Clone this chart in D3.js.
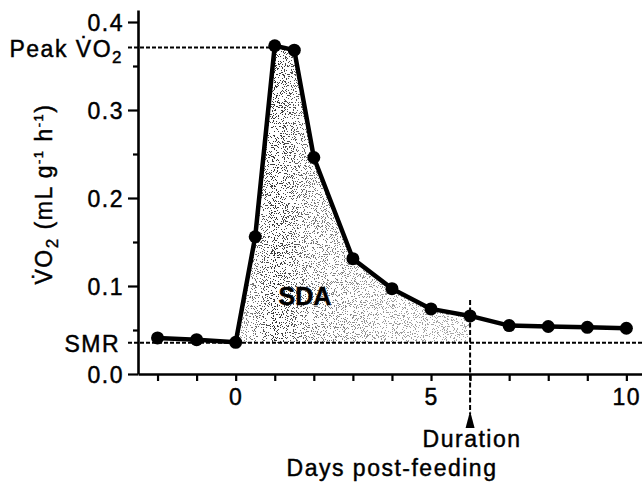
<!DOCTYPE html>
<html>
<head>
<meta charset="utf-8">
<script src="https://cdn.jsdelivr.net/npm/d3@7"></script>
<style>
  body { margin: 0; background: #fff; }
  text { font-family: "Liberation Sans", Arial, sans-serif; fill: #000; stroke: #000; stroke-width: 0.45px; }
</style>
</head>
<body>
<svg id="chart" width="642" height="483"></svg>
<script>
// data
const days = [-2, -1, 0, 0.5, 1, 1.5, 2, 3, 4, 5, 6, 7, 8, 9, 10];
const vo2 = [0.041, 0.039, 0.036, 0.156, 0.373, 0.368, 0.246, 0.131, 0.097, 0.074, 0.066, 0.055, 0.054, 0.053, 0.052];
const smr = 0.0356;
const peak = 0.371;
const duration = 6;
const yTicks = [0, 0.1, 0.2, 0.3, 0.4];
const yMinor = [0.05, 0.15, 0.25, 0.35];
const xTicks = [-2, -1, 0, 1, 2, 3, 4, 5, 6, 7, 8, 9, 10];
const xLabels = [0, 5, 10];

const points = days.map((d, i) => ({ day: d, v: vo2[i] }));

const svg = d3.select("#chart");

const x = d3.scaleLinear().domain([-2.5, 10.4]).range([138, 642]);
const y = d3.scaleLinear().domain([0, 0.41364]).range([374, 10]);

const fontSize = "23px";
const spacing = "1.5px";

// stipple texture for the SDA area
const defs = svg.append("defs");
const grad = defs.append("linearGradient")
    .attr("id", "sdaGrad")
    .attr("gradientUnits", "userSpaceOnUse")
    .attr("x1", x(0)).attr("x2", x(6)).attr("y1", 0).attr("y2", 0);
[[0, "#aaa"], [0.17, "#333"], [0.32, "#777"], [0.6, "#999"], [1, "#aaa"]].forEach(s => {
    grad.append("stop").attr("offset", s[0]).attr("stop-color", s[1]);
});

const filter = defs.append("filter").attr("id", "stipple")
    .attr("x", 0).attr("y", 0).attr("width", "100%").attr("height", "100%");
filter.append("feTurbulence")
    .attr("type", "fractalNoise").attr("baseFrequency", 0.9)
    .attr("numOctaves", 2).attr("seed", 7).attr("result", "noise");
filter.append("feColorMatrix")
    .attr("in", "noise").attr("type", "matrix")
    .attr("values", "0 0 0 0 0  0 0 0 0 0  0 0 0 0 0  1 0 0 0 0")
    .attr("result", "alpha");
filter.append("feComponentTransfer").attr("in", "alpha").attr("result", "dots")
    .append("feFuncA").attr("type", "discrete").attr("tableValues", "0 0 0 0 0 0 1 1 1 1");
filter.append("feComposite")
    .attr("in", "SourceGraphic").attr("in2", "dots").attr("operator", "in");

const sdaPoints = points.filter(p => p.day >= 0 && p.day <= duration);
const area = d3.area()
    .x(d => x(d.day))
    .y0(y(smr))
    .y1(d => y(d.v));

svg.append("path")
    .datum(sdaPoints)
    .attr("d", area)
    .attr("fill", "url(#sdaGrad)")
    .attr("filter", "url(#stipple)");

// axes
const yAxis = svg.append("g")
    .attr("transform", `translate(${x(-2.5)},0)`)
    .call(d3.axisLeft(y).tickValues(yTicks).tickSize(10).tickSizeOuter(0)
        .tickFormat(d3.format(".1f")).tickPadding(4));
svg.append("g")
    .attr("transform", `translate(${x(-2.5)},0)`)
    .call(d3.axisLeft(y).tickValues(yMinor).tickSize(5).tickSizeOuter(0).tickFormat(""))
    .select(".domain").remove();

const xAxis = svg.append("g")
    .attr("transform", `translate(0,${y(0)})`)
    .call(d3.axisBottom(x).tickValues(xTicks).tickSize(7).tickSizeOuter(0)
        .tickFormat(d => xLabels.includes(d) ? d : "").tickPadding(8));

[yAxis, xAxis].forEach(g => {
    g.selectAll("text")
        .style("font-family", "'Liberation Sans', Arial, sans-serif")
        .style("font-size", fontSize)
        .style("letter-spacing", spacing)
        .attr("fill", "#000");
});
yAxis.selectAll("text").attr("dy", "0.38em");
svg.selectAll(".domain").attr("stroke", "#000").attr("stroke-width", 2.6);
svg.selectAll(".tick line").attr("stroke", "#000").attr("stroke-width", 2.2);

// reference lines
svg.append("line")
    .attr("x1", 128).attr("x2", 642)
    .attr("y1", y(smr)).attr("y2", y(smr))
    .attr("stroke", "#000").attr("stroke-width", 2).attr("stroke-dasharray", "4,2");
svg.append("line")
    .attr("x1", 128).attr("x2", x(1))
    .attr("y1", y(peak)).attr("y2", y(peak))
    .attr("stroke", "#000").attr("stroke-width", 2).attr("stroke-dasharray", "4,2");
svg.append("line")
    .attr("x1", x(duration)).attr("x2", x(duration))
    .attr("y1", 300).attr("y2", 414)
    .attr("stroke", "#000").attr("stroke-width", 2).attr("stroke-dasharray", "5,2.5");
svg.append("path")
    .attr("d", `M${x(duration)},411 L${x(duration) - 4.5},428 L${x(duration) + 4.5},428 Z`)
    .attr("fill", "#000");

// data line and dots
const line = d3.line().x(d => x(d.day)).y(d => y(d.v));
svg.append("path")
    .datum(points)
    .attr("d", line)
    .attr("fill", "none")
    .attr("stroke", "#000")
    .attr("stroke-width", 4.5)
    .attr("stroke-linejoin", "round");

svg.append("g").selectAll("circle")
    .data(points)
    .join("circle")
    .attr("cx", d => x(d.day))
    .attr("cy", d => y(d.v))
    .attr("r", 6.5)
    .attr("fill", "#000");

// labels
const label = (t, px, py, anchor) => svg.append("text")
    .attr("x", px).attr("y", py)
    .attr("text-anchor", anchor)
    .style("font-size", fontSize)
    .style("letter-spacing", spacing)
    .text(t);

label("SMR", 120, y(smr) + 9, "end");

const peakText = svg.append("text")
    .attr("x", 123).attr("y", y(peak) + 9)
    .attr("text-anchor", "end")
    .style("font-size", fontSize)
    .style("letter-spacing", spacing);
peakText.append("tspan").text("Peak V\u0307O");
peakText.append("tspan").attr("dy", 6).style("font-size", "17px").text("2");

svg.append("text")
    .attr("x", 305).attr("y", 305)
    .attr("text-anchor", "middle")
    .style("font-size", "25px")
    .style("font-weight", "bold")
    .text("SDA");

label("Duration", x(duration) + 2, 447, "middle");
label("Days post-feeding", 392, 476, "middle");

const yLabel = svg.append("text")
    .attr("transform", "translate(52,194) rotate(-90)")
    .attr("text-anchor", "middle")
    .style("font-size", fontSize)
    .style("letter-spacing", spacing);
yLabel.append("tspan").text("V\u0307O");
yLabel.append("tspan").attr("dy", 6).style("font-size", "17px").text("2");
yLabel.append("tspan").attr("dy", -6).text(" (mL g");
yLabel.append("tspan").attr("dy", -9).style("font-size", "13px").text("-1");
yLabel.append("tspan").attr("dy", 9).text(" h");
yLabel.append("tspan").attr("dy", -9).style("font-size", "13px").text("-1");
yLabel.append("tspan").attr("dy", 9).text(")");
</script>
</body>
</html>
